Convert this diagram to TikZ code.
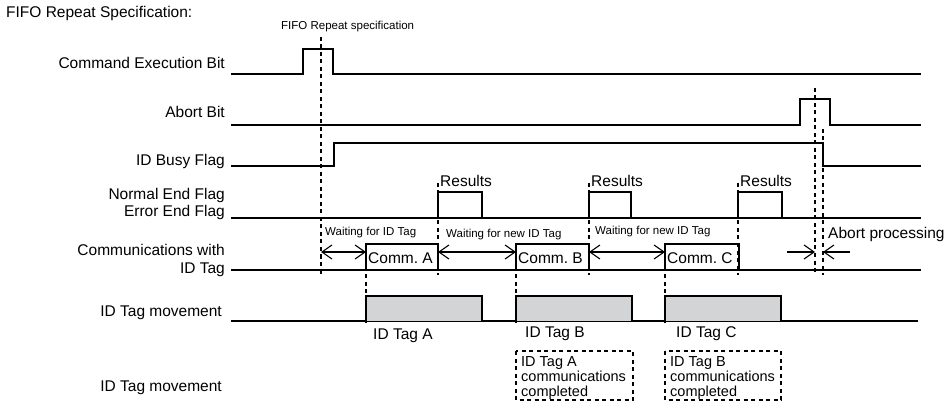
\documentclass[tikz,border=0pt]{standalone}
\usepackage{fontspec}
\setmainfont{Liberation Sans}
\usepackage{tikz}
\usetikzlibrary{arrows.meta}
\definecolor{tag-gray}{HTML}{D3D4D5}

\begin{document}
\begin{tikzpicture}[
  x=1pt, y=-1pt,
  every node/.style={inner sep=1pt},
  sig/.style={font=\fontsize{15.5}{17.5}\selectfont, anchor=east, align=right},
  txt/.style={font=\fontsize{15.5}{17.5}\selectfont, anchor=west},
  note/.style={font=\fontsize{11.5}{13}\selectfont, anchor=west},
  wave/.style={line width=1.8pt, line join=miter},
  guide/.style={line width=1.8pt, dash pattern=on 4pt off 3.5pt},
  span/.style={{Straight Barb[length=10pt,width=14pt]}-{Straight Barb[length=10pt,width=14pt]}, line width=1.1pt},
  stop/.style={-{Straight Barb[length=10pt,width=14pt]}, line width=1.1pt},
  tagbox/.style={wave, fill=tag-gray},
  donebox/.style={line width=1.8pt, dash pattern=on 4pt off 3.5pt},
  donetxt/.style={font=\fontsize{14.5}{15}\selectfont, anchor=north west, align=left}
]
  \useasboundingbox (0,0) rectangle (952,403);

  % titles
  \node[txt] (title) at (5,13) {FIFO Repeat Specification:};
  \node[note] (fifo) at (280,27) {FIFO Repeat specification};

  % signal names
  \node[sig] (cmd)   at (226,63)  {Command Execution Bit};
  \node[sig] (abort) at (226,112) {Abort Bit};
  \node[sig] (busy)  at (226,161) {ID Busy Flag};
  \node[sig] (endf)  at (226,204) {Normal End Flag\\Error End Flag};
  \node[sig] (comm)  at (226,260.5) {Communications with\\ID Tag};
  \node[sig] (move)  at (223,313) {ID Tag movement};
  \node[sig] (move2) at (223,388) {ID Tag movement};

  % waveforms
  \draw[wave] (231,74) -- (303,74) -- (303,49) -- (333,49) -- (333,74) -- (921,74);
  \draw[wave] (231,125) -- (800,125) -- (800,99) -- (830,99) -- (830,125) -- (921,125);
  \draw[wave] (231,166) -- (334,166) -- (334,143) -- (823,143) -- (823,166) -- (921,166);
  \draw[wave] (231,218) -- (921,218);
  \foreach \a/\b in {438/482, 589/631, 738/782} {
    \draw[wave] (\a,218) -- (\a,192) -- (\b,192) -- (\b,218);
  }
  \draw[wave] (231,270) -- (921,270);
  \foreach \a/\b/\n in {366/438/A, 516/589/B, 665/739/C} {
    \draw[wave] (\a,270) -- (\a,244) -- (\b,244) -- (\b,270);
    \node[txt] (comm\n) at (\a+1,258) {Comm.\ \n};
  }
  \draw[wave] (231,321) -- (918,321);
  \foreach \a/\b in {366/482, 516/632, 665/781} {
    \draw[tagbox] (\a,321) -- (\a,296) -- (\b,296) -- (\b,321);
  }
  \node[txt] (tagA) at (372,336) {ID Tag A};
  \node[txt] (tagB) at (524,334) {ID Tag B};
  \node[txt] (tagC) at (675,334) {ID Tag C};

  % results
  \foreach \a/\n in {438/1, 589/2, 738/3} {
    \node[txt] (res\n) at (\a+1,181) {Results};
  }

  % timing guides
  \draw[guide] (321,37) -- (321,275);
  \foreach \a in {438, 589, 738} {
    \draw[guide] (\a,183) -- (\a,275);
  }
  \foreach \a in {366, 516, 665} {
    \draw[guide] (\a,274) -- (\a,324);
  }
  \draw[guide] (815,88) -- (815,275);
  \draw[guide] (823,129) -- (823,143);
  \draw[guide] (823,168) -- (823,275);

  % waiting spans
  \coordinate (w0) at (321,252);
  \coordinate (w1) at (366,252);
  \coordinate (w2) at (438,252);
  \coordinate (w3) at (516,252);
  \coordinate (w4) at (589,252);
  \coordinate (w5) at (665,252);
  \draw[span] (w0) -- (w1);
  \draw[span] (w2) -- (w3);
  \draw[span] (w4) -- (w5);
  \node[note] (wait1) at (324,233) {Waiting for ID Tag};
  \node[note] (wait2) at (445,235) {Waiting for new ID Tag};
  \node[note] (wait3) at (594,232) {Waiting for new ID Tag};

  % abort processing
  \coordinate (a0) at (787,252);
  \coordinate (a1) at (815,252);
  \coordinate (a2) at (850,252);
  \coordinate (a3) at (823,252);
  \draw[stop] (a0) -- (a1);
  \draw[stop] (a2) -- (a3);
  \node[txt] (abortp) at (827,234) {Abort processing};

  % completion boxes
  \draw[donebox] (516,351) rectangle (633,400);
  \draw[donebox] (665,351) rectangle (781,400);
  \node[donetxt] (doneA) at (520,355) {ID Tag A\\communications\\completed};
  \node[donetxt] (doneB) at (669,355) {ID Tag B\\communications\\completed};
\end{tikzpicture}
\end{document}
